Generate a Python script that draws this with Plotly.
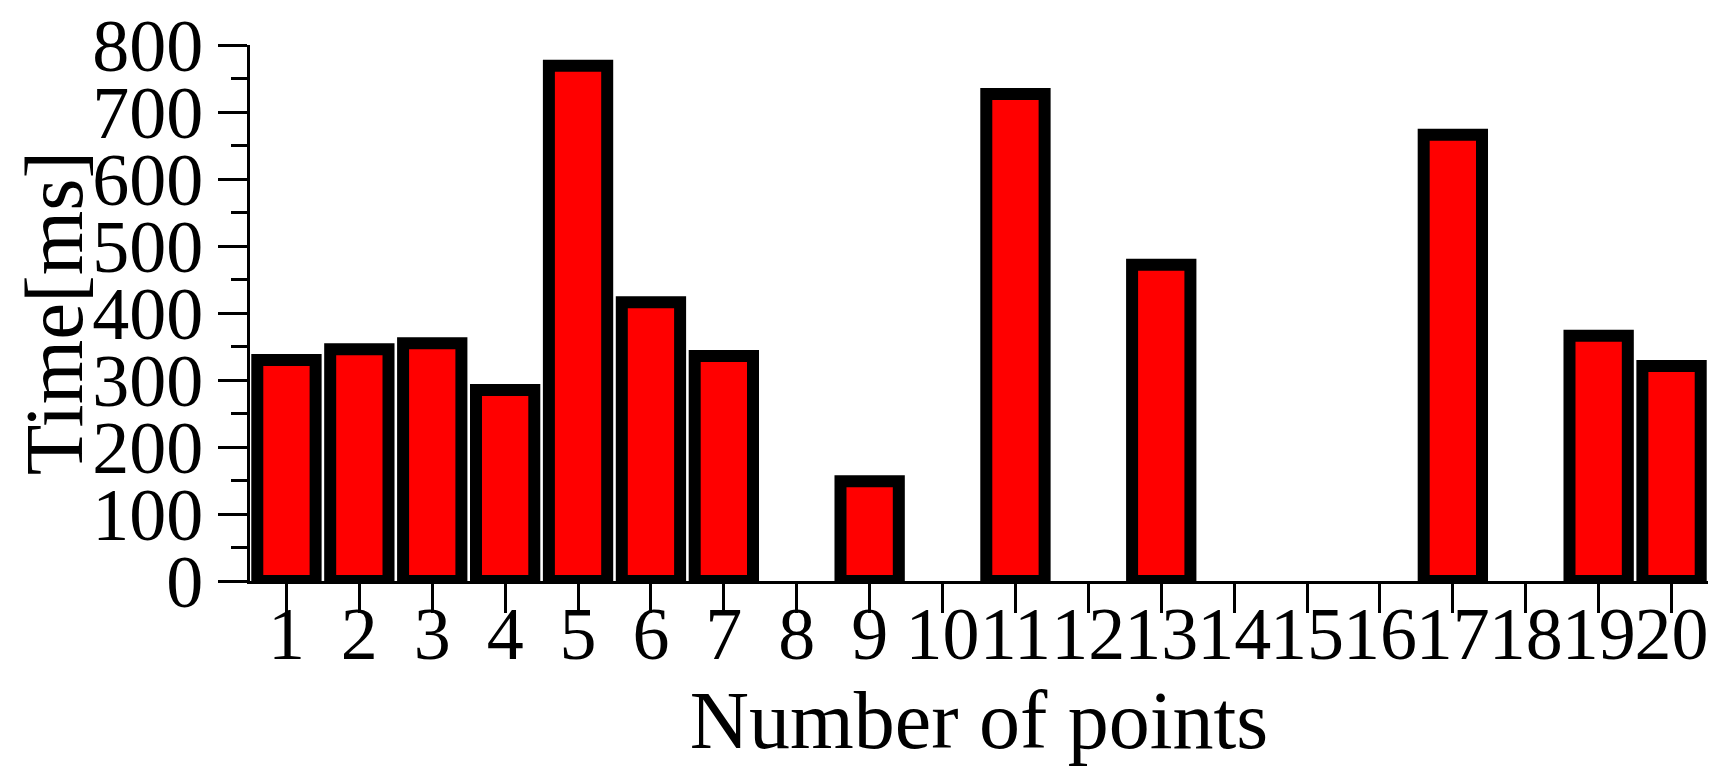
import plotly.graph_objects as go

categories = list(range(1, 21))
tick_labels = [str(c) for c in categories]
times_ms = [330, 346, 355, 285, 769, 416, 336, None, 149, None,
            727, None, 472, None, None, None, 666, None, 366, 321]

FONT = "Liberation Serif"

fig = go.Figure()
fig.add_trace(go.Bar(
    x=categories,
    y=times_ms,
    marker=dict(color="#FF0000", line=dict(color="#000000", width=12)),
    showlegend=False,
))

fig.update_layout(
    width=1713,
    height=771,
    margin=dict(l=242, r=13, t=37, b=198, autoexpand=False),
    paper_bgcolor="white",
    plot_bgcolor="white",
    bargap=0.2,
    font=dict(family=FONT, color="black"),
    xaxis=dict(
        range=[0.5, 20.5],
        tickmode="array",
        tickvals=categories,
        ticktext=tick_labels,
        tickangle=0,
        automargin=False,
        ticklabeloverflow="allow",
        ticks="outside",
        ticklen=29,
        tickwidth=3,
        tickcolor="black",
        ticklabelstandoff=-43,
        showline=True,
        linewidth=3,
        linecolor="black",
        showgrid=False,
        zeroline=False,
        tickfont=dict(family=FONT, size=74, color="black"),
        title=dict(text="Number of points", font=dict(family=FONT, size=82, color="black"), standoff=10),
    ),
    yaxis=dict(
        range=[0, 800],
        dtick=100,
        automargin=False,
        ticklabeloverflow="allow",
        ticks="outside",
        ticklen=29,
        tickwidth=3,
        tickcolor="black",
        showline=True,
        linewidth=3,
        linecolor="black",
        showgrid=False,
        zeroline=False,
        minor=dict(dtick=50, ticks="outside", ticklen=16, tickwidth=3, tickcolor="black", showgrid=False),
        tickfont=dict(family=FONT, size=74, color="black"),
        title=dict(text="Time[ms]", font=dict(family=FONT, size=83, color="black"), standoff=13),
    ),
)

fig.write_html("out.html")
